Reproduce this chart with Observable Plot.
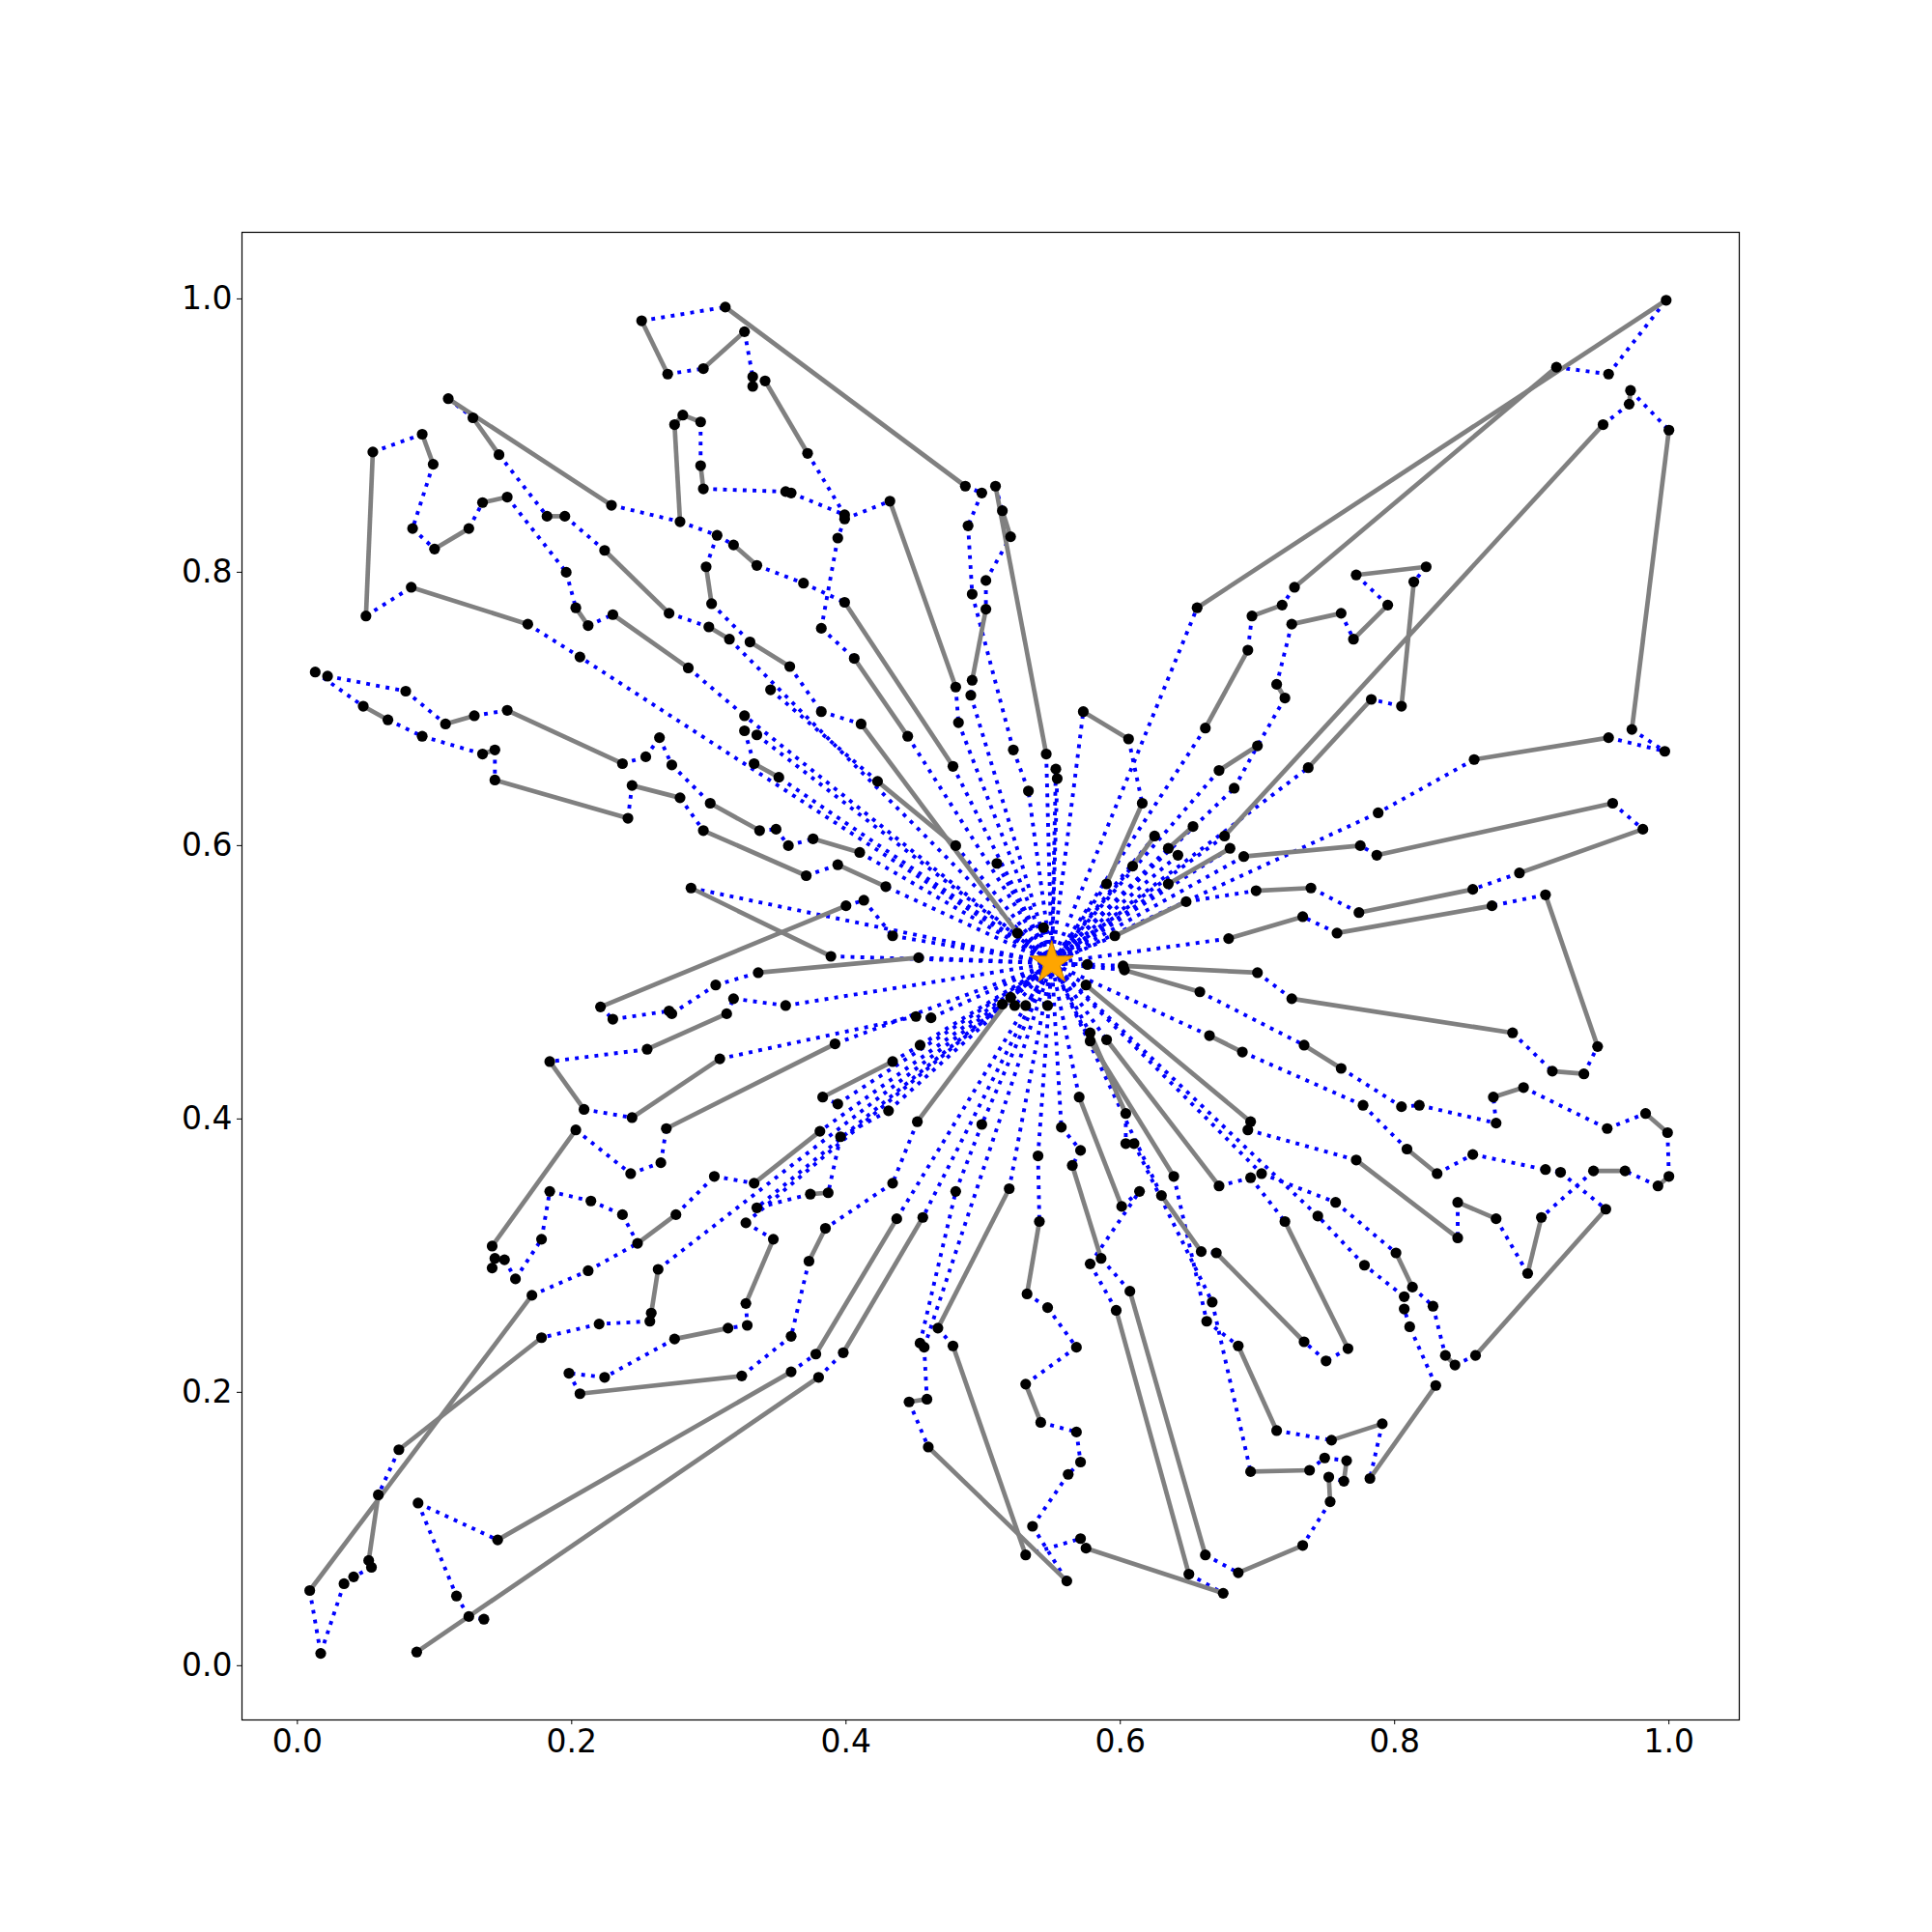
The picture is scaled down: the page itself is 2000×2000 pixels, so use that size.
<!DOCTYPE html>
<html>
<head>
<meta charset="utf-8">
<script src="https://cdn.jsdelivr.net/npm/d3@7"></script>
<script src="https://cdn.jsdelivr.net/npm/@observablehq/plot@0.6"></script>
<style>
  html, body { margin: 0; padding: 0; background: #ffffff; }
  #chart { width: 2000px; height: 2000px; }
</style>
</head>
<body>
<div id="chart"></div>
<script>
// Depot (star)
const depot = [0.550, 0.514];

// Tick values for both axes
const xTicks = [0.0, 0.2, 0.4, 0.6, 0.8, 1.0];
const yTicks = [0.0, 0.2, 0.4, 0.6, 0.8, 1.0];

// Solid gray route edges [x1, y1, x2, y2]
const solidEdges = [
  [0.251,0.984,0.270,0.945],[0.296,0.949,0.326,0.976],[0.312,0.994,0.487,0.863],[0.341,0.940,0.372,0.887],
  [0.110,0.927,0.229,0.849],[0.128,0.913,0.147,0.886],[0.182,0.841,0.195,0.841],[0.224,0.816,0.271,0.770],
  [0.300,0.760,0.315,0.751],[0.203,0.774,0.212,0.761],[0.230,0.769,0.285,0.730],[0.279,0.837,0.275,0.908],
  [0.275,0.908,0.281,0.915],[0.281,0.915,0.294,0.910],[0.294,0.878,0.296,0.861],[0.298,0.804,0.302,0.777],
  [0.318,0.820,0.335,0.805],[0.091,0.901,0.099,0.879],[0.100,0.817,0.125,0.832],[0.135,0.851,0.153,0.855],
  [0.055,0.888,0.050,0.768],[0.083,0.789,0.168,0.762],[0.048,0.702,0.066,0.692],[0.108,0.689,0.129,0.695],
  [0.153,0.699,0.237,0.660],[0.432,0.852,0.480,0.716],[0.399,0.778,0.478,0.658],[0.406,0.737,0.445,0.680],
  [0.330,0.749,0.359,0.731],[0.411,0.689,0.525,0.536],[0.423,0.647,0.480,0.600],[0.509,0.863,0.546,0.667],
  [0.514,0.845,0.520,0.826],[0.502,0.773,0.492,0.721],[0.573,0.698,0.606,0.678],[0.656,0.774,0.998,0.999],
  [0.662,0.686,0.693,0.743],[0.918,0.950,0.727,0.789],[0.972,0.933,0.971,0.923],[0.952,0.908,0.676,0.607],
  [1.000,0.904,0.973,0.685],[0.956,0.679,0.858,0.663],[0.718,0.776,0.696,0.768],[0.725,0.762,0.761,0.770],
  [0.770,0.751,0.795,0.776],[0.772,0.798,0.823,0.804],[0.814,0.793,0.805,0.702],[0.783,0.707,0.737,0.657],
  [0.714,0.718,0.720,0.708],[0.700,0.673,0.672,0.655],[0.959,0.631,0.787,0.593],[0.981,0.612,0.891,0.580],
  [0.857,0.568,0.774,0.551],[0.739,0.569,0.699,0.567],[0.775,0.600,0.690,0.592],[0.910,0.564,0.948,0.453],
  [0.871,0.556,0.758,0.536],[0.733,0.548,0.679,0.532],[0.700,0.507,0.602,0.512],[0.658,0.493,0.603,0.509],
  [0.725,0.488,0.886,0.463],[0.915,0.435,0.938,0.433],[0.734,0.454,0.761,0.437],[0.872,0.416,0.894,0.423],
  [0.983,0.404,0.999,0.390],[1.000,0.358,0.992,0.351],[0.968,0.362,0.945,0.362],[0.809,0.378,0.831,0.360],
  [0.846,0.339,0.874,0.327],[0.772,0.370,0.846,0.313],[0.954,0.334,0.859,0.227],[0.907,0.328,0.897,0.287],
  [0.665,0.461,0.689,0.449],[0.575,0.498,0.695,0.398],[0.616,0.631,0.590,0.572],[0.625,0.607,0.609,0.585],
  [0.653,0.614,0.635,0.598],[0.635,0.572,0.680,0.598],[0.596,0.534,0.648,0.559],[0.578,0.463,0.604,0.404],
  [0.578,0.457,0.639,0.358],[0.590,0.458,0.672,0.351],[0.570,0.416,0.601,0.336],[0.565,0.366,0.586,0.298],
  [0.541,0.325,0.532,0.272],[0.630,0.344,0.659,0.303],[0.670,0.302,0.734,0.237],[0.720,0.325,0.766,0.232],
  [0.686,0.234,0.714,0.172],[0.754,0.165,0.791,0.177],[0.782,0.137,0.830,0.205],[0.801,0.302,0.813,0.277],
  [0.837,0.227,0.844,0.220],[0.695,0.142,0.738,0.143],[0.765,0.150,0.763,0.135],[0.752,0.138,0.753,0.120],
  [0.733,0.088,0.686,0.068],[0.675,0.053,0.575,0.086],[0.662,0.081,0.607,0.274],[0.650,0.067,0.597,0.260],
  [0.531,0.206,0.542,0.178],[0.478,0.234,0.531,0.081],[0.460,0.160,0.561,0.062],[0.459,0.195,0.446,0.193],
  [0.467,0.247,0.519,0.349],[0.378,0.228,0.437,0.327],[0.146,0.092,0.360,0.215],[0.087,0.010,0.380,0.211],
  [0.398,0.229,0.456,0.328],[0.373,0.296,0.385,0.320],[0.347,0.312,0.327,0.265],[0.314,0.247,0.275,0.239],
  [0.206,0.199,0.324,0.212],[0.263,0.290,0.258,0.258],[0.248,0.309,0.276,0.330],[0.171,0.271,0.009,0.055],
  [0.178,0.240,0.074,0.158],[0.059,0.125,0.052,0.077],[0.142,0.307,0.203,0.392],[0.269,0.393,0.392,0.455],
  [0.313,0.477,0.255,0.451],[0.184,0.442,0.209,0.407],[0.244,0.401,0.308,0.444],[0.135,0.667,0.144,0.670],
  [0.144,0.648,0.241,0.620],[0.244,0.644,0.279,0.635],[0.296,0.611,0.371,0.578],[0.394,0.586,0.429,0.570],
  [0.301,0.631,0.337,0.611],[0.376,0.605,0.410,0.595],[0.333,0.660,0.351,0.650],[0.287,0.569,0.389,0.519],
  [0.336,0.507,0.453,0.518],[0.221,0.482,0.400,0.556],[0.383,0.416,0.434,0.442],[0.381,0.391,0.333,0.353],
  [0.387,0.346,0.374,0.345],[0.452,0.398,0.520,0.489]
];

// Dotted blue route edges between customers [x1, y1, x2, y2]
const dottedEdges = [
  [0.251,0.984,0.312,0.994],[0.270,0.945,0.296,0.949],[0.326,0.976,0.332,0.943],[0.332,0.943,0.332,0.936],
  [0.332,0.936,0.341,0.940],[0.372,0.887,0.399,0.842],[0.360,0.858,0.399,0.842],[0.356,0.859,0.360,0.858],
  [0.399,0.839,0.432,0.852],[0.399,0.839,0.394,0.825],[0.394,0.825,0.382,0.759],[0.382,0.759,0.406,0.737],
  [0.296,0.861,0.356,0.859],[0.487,0.863,0.499,0.858],[0.499,0.858,0.489,0.834],[0.489,0.834,0.492,0.784],
  [0.492,0.784,0.522,0.670],[0.522,0.670,0.533,0.640],[0.502,0.794,0.520,0.826],[0.502,0.794,0.502,0.773],
  [0.492,0.721,0.491,0.710],[0.480,0.716,0.482,0.690],[0.509,0.863,0.514,0.845],[0.606,0.678,0.616,0.631],
  [0.110,0.927,0.128,0.913],[0.147,0.886,0.182,0.841],[0.195,0.841,0.224,0.816],[0.271,0.770,0.300,0.760],
  [0.302,0.777,0.330,0.749],[0.153,0.855,0.196,0.800],[0.196,0.800,0.203,0.774],[0.212,0.761,0.230,0.769],
  [0.285,0.730,0.326,0.695],[0.229,0.849,0.279,0.837],[0.279,0.837,0.306,0.827],[0.306,0.827,0.298,0.804],
  [0.306,0.827,0.318,0.820],[0.294,0.910,0.294,0.878],[0.055,0.888,0.091,0.901],[0.099,0.879,0.084,0.832],
  [0.084,0.832,0.100,0.817],[0.125,0.832,0.135,0.851],[0.050,0.768,0.083,0.789],[0.168,0.762,0.206,0.738],
  [0.335,0.805,0.369,0.792],[0.369,0.792,0.399,0.778],[0.013,0.727,0.048,0.702],[0.013,0.727,0.022,0.724],
  [0.022,0.724,0.079,0.713],[0.066,0.692,0.091,0.680],[0.091,0.680,0.135,0.667],[0.079,0.713,0.108,0.689],
  [0.129,0.695,0.153,0.699],[0.237,0.660,0.254,0.665],[0.254,0.665,0.264,0.679],[0.264,0.679,0.273,0.659],
  [0.273,0.659,0.301,0.631],[0.326,0.684,0.333,0.660],[0.326,0.684,0.335,0.681],[0.359,0.731,0.382,0.698],
  [0.382,0.698,0.411,0.689],[0.345,0.714,0.423,0.647],[0.144,0.670,0.144,0.648],[0.241,0.620,0.244,0.644],
  [0.279,0.635,0.296,0.611],[0.371,0.578,0.394,0.586],[0.337,0.611,0.349,0.612],[0.349,0.612,0.358,0.600],
  [0.358,0.600,0.376,0.605],[0.918,0.950,0.956,0.945],[0.956,0.945,0.998,0.999],[0.972,0.933,1.000,0.904],
  [0.971,0.923,0.952,0.908],[0.973,0.685,0.997,0.669],[0.956,0.679,0.997,0.669],[0.727,0.789,0.718,0.776],
  [0.696,0.768,0.693,0.743],[0.725,0.762,0.714,0.718],[0.761,0.770,0.770,0.751],[0.795,0.776,0.772,0.798],
  [0.823,0.804,0.814,0.793],[0.805,0.702,0.783,0.707],[0.720,0.708,0.700,0.673],[0.683,0.642,0.700,0.673],
  [0.858,0.663,0.788,0.624],[0.959,0.631,0.981,0.612],[0.891,0.580,0.857,0.568],[0.774,0.551,0.739,0.569],
  [0.787,0.593,0.775,0.600],[0.648,0.559,0.699,0.567],[0.910,0.564,0.871,0.556],[0.758,0.536,0.733,0.548],
  [0.886,0.463,0.915,0.435],[0.938,0.433,0.948,0.453],[0.700,0.507,0.725,0.488],[0.658,0.493,0.734,0.454],
  [0.761,0.437,0.805,0.409],[0.805,0.409,0.818,0.410],[0.818,0.410,0.874,0.397],[0.874,0.397,0.872,0.416],
  [0.894,0.423,0.955,0.393],[0.955,0.393,0.983,0.404],[0.999,0.390,1.000,0.358],[0.992,0.351,0.968,0.362],
  [0.945,0.362,0.907,0.328],[0.897,0.287,0.874,0.327],[0.846,0.339,0.846,0.313],[0.772,0.370,0.693,0.392],
  [0.693,0.392,0.695,0.398],[0.689,0.449,0.777,0.410],[0.777,0.410,0.809,0.378],[0.831,0.360,0.857,0.374],
  [0.857,0.374,0.910,0.363],[0.910,0.363,0.921,0.361],[0.921,0.361,0.954,0.334],[0.672,0.351,0.695,0.357],
  [0.695,0.357,0.720,0.325],[0.703,0.360,0.757,0.339],[0.757,0.339,0.801,0.302],[0.813,0.277,0.828,0.263],
  [0.828,0.263,0.837,0.227],[0.844,0.220,0.859,0.227],[0.766,0.232,0.750,0.223],[0.750,0.223,0.734,0.237],
  [0.714,0.172,0.754,0.165],[0.791,0.177,0.782,0.137],[0.830,0.205,0.811,0.248],[0.811,0.248,0.807,0.261],
  [0.807,0.261,0.807,0.270],[0.807,0.270,0.778,0.293],[0.778,0.293,0.744,0.329],[0.663,0.252,0.686,0.234],
  [0.667,0.266,0.695,0.142],[0.738,0.143,0.749,0.152],[0.749,0.152,0.765,0.150],[0.752,0.138,0.763,0.135],
  [0.753,0.120,0.733,0.088],[0.662,0.081,0.686,0.068],[0.650,0.067,0.675,0.053],[0.607,0.274,0.586,0.298],
  [0.597,0.260,0.578,0.294],[0.578,0.294,0.614,0.347],[0.601,0.336,0.614,0.347],[0.604,0.404,0.604,0.382],
  [0.604,0.382,0.610,0.382],[0.610,0.382,0.667,0.266],[0.639,0.358,0.663,0.252],[0.557,0.394,0.571,0.377],
  [0.571,0.377,0.565,0.366],[0.540,0.373,0.541,0.325],[0.532,0.272,0.547,0.262],[0.547,0.262,0.568,0.233],
  [0.568,0.233,0.531,0.206],[0.542,0.178,0.568,0.171],[0.568,0.171,0.571,0.149],[0.571,0.149,0.562,0.140],
  [0.562,0.140,0.536,0.102],[0.536,0.102,0.561,0.062],[0.531,0.081,0.571,0.093],[0.571,0.093,0.575,0.086],
  [0.457,0.233,0.459,0.195],[0.446,0.193,0.460,0.160],[0.467,0.247,0.478,0.234],[0.454,0.236,0.480,0.347],
  [0.480,0.347,0.499,0.396],[0.452,0.398,0.434,0.353],[0.434,0.353,0.385,0.320],[0.373,0.296,0.360,0.241],
  [0.360,0.241,0.324,0.212],[0.360,0.215,0.378,0.228],[0.380,0.211,0.398,0.229],[0.327,0.324,0.347,0.312],
  [0.327,0.265,0.328,0.249],[0.328,0.249,0.314,0.247],[0.275,0.239,0.224,0.211],[0.224,0.211,0.198,0.214],
  [0.198,0.214,0.206,0.199],[0.171,0.271,0.212,0.289],[0.212,0.289,0.248,0.309],[0.237,0.330,0.248,0.309],
  [0.214,0.340,0.237,0.330],[0.184,0.347,0.214,0.340],[0.178,0.312,0.184,0.347],[0.159,0.283,0.178,0.312],
  [0.151,0.297,0.159,0.283],[0.142,0.307,0.144,0.298],[0.142,0.291,0.151,0.297],[0.258,0.258,0.257,0.252],
  [0.257,0.252,0.220,0.250],[0.220,0.250,0.178,0.240],[0.074,0.158,0.059,0.125],[0.052,0.077,0.054,0.072],
  [0.054,0.072,0.041,0.065],[0.041,0.065,0.034,0.060],[0.034,0.060,0.017,0.009],[0.009,0.055,0.017,0.009],
  [0.088,0.119,0.146,0.092],[0.088,0.119,0.116,0.051],[0.116,0.051,0.125,0.036],[0.125,0.036,0.136,0.034],
  [0.203,0.392,0.243,0.360],[0.243,0.360,0.265,0.368],[0.265,0.368,0.269,0.393],[0.276,0.330,0.304,0.358],
  [0.304,0.358,0.333,0.353],[0.374,0.345,0.335,0.335],[0.431,0.406,0.396,0.387],[0.396,0.387,0.387,0.346],
  [0.383,0.416,0.394,0.411],[0.434,0.442,0.454,0.454],[0.255,0.451,0.184,0.442],[0.209,0.407,0.244,0.401],
  [0.308,0.444,0.451,0.475],[0.451,0.475,0.462,0.474],[0.313,0.477,0.318,0.488],[0.318,0.488,0.356,0.483],
  [0.221,0.482,0.230,0.473],[0.230,0.473,0.271,0.479],[0.271,0.479,0.273,0.477],[0.273,0.477,0.305,0.498],
  [0.305,0.498,0.336,0.507],[0.400,0.556,0.413,0.560],[0.413,0.560,0.434,0.534],[0.659,0.303,0.670,0.302]
];

// Customers joined to the depot by a dotted blue edge [x, y]
const depotLinks = [
  [0.206,0.738],[0.315,0.751],[0.326,0.695],[0.335,0.681],[0.351,0.650],[0.410,0.595],[0.429,0.570],
  [0.434,0.534],[0.287,0.569],[0.389,0.519],[0.453,0.518],[0.480,0.600],[0.510,0.587],[0.525,0.536],
  [0.491,0.710],[0.482,0.690],[0.533,0.640],[0.546,0.667],[0.553,0.656],[0.554,0.649],[0.573,0.698],
  [0.590,0.572],[0.656,0.774],[0.662,0.686],[0.609,0.585],[0.625,0.607],[0.635,0.598],[0.642,0.593],
  [0.653,0.614],[0.672,0.655],[0.683,0.642],[0.676,0.607],[0.680,0.598],[0.690,0.592],[0.635,0.572],
  [0.596,0.534],[0.788,0.624],[0.679,0.532],[0.544,0.540],[0.576,0.513],[0.602,0.512],[0.603,0.509],
  [0.575,0.498],[0.665,0.461],[0.737,0.657],[0.445,0.680],[0.478,0.658],[0.356,0.483],[0.462,0.474],
  [0.454,0.454],[0.392,0.455],[0.394,0.411],[0.381,0.391],[0.431,0.406],[0.499,0.396],[0.437,0.327],
  [0.456,0.328],[0.457,0.233],[0.519,0.349],[0.540,0.373],[0.557,0.394],[0.570,0.416],[0.578,0.463],
  [0.578,0.457],[0.590,0.458],[0.630,0.344],[0.703,0.360],[0.327,0.324],[0.335,0.335],[0.263,0.290],
  [0.514,0.484],[0.520,0.489],[0.523,0.483],[0.531,0.483],[0.547,0.483],[0.744,0.329]
];

// Build link tables from the arrays above.
// Routes leave the depot on one dotted edge and come back on another,
// so alternate the drawing direction (the dot pattern starts at the first point).
const depotEdges = depotLinks.map(([x, y], i) =>
  i % 2 === 0 ? [depot[0], depot[1], x, y] : [x, y, depot[0], depot[1]]);
const allDotted = dottedEdges.concat(depotEdges);

const nodeMap = new Map();
for (const [x1, y1, x2, y2] of solidEdges.concat(dottedEdges)) {
  nodeMap.set(`${x1},${y1}`, [x1, y1]);
  nodeMap.set(`${x2},${y2}`, [x2, y2]);
}
for (const [x, y] of depotLinks) nodeMap.set(`${x},${y}`, [x, y]);
const nodes = Array.from(nodeMap.values());

const linkOpts = {x1: d => d[0], y1: d => d[1], x2: d => d[2], y2: d => d[3]};

const chart = Plot.plot({
  width: 2000,
  height: 2000,
  marginLeft: 250,
  marginRight: 200,
  marginTop: 240,
  marginBottom: 220,
  x: {domain: [-0.0404, 1.0513]},
  y: {domain: [-0.0397, 1.0487]},
  style: {fontFamily: "DejaVu Sans", fontSize: "33px", background: "#ffffff", color: "#000000"},
  marks: [
    Plot.link(allDotted, {...linkOpts, stroke: "#0000ff", strokeWidth: 3.9, strokeDasharray: "3.9,6.3", strokeLinecap: "butt"}),
    Plot.link(solidEdges, {...linkOpts, stroke: "#808080", strokeWidth: 4.7, strokeLinecap: "butt"}),
    Plot.dot(nodes, {x: d => d[0], y: d => d[1], r: 5.6, fill: "#000000"}),
    Plot.dot([depot], {x: d => d[0], y: d => d[1], symbol: "star", r: 14, fill: "#FFA500", stroke: "#c47f00", strokeWidth: 1}),
    Plot.axisX({ticks: xTicks, tickFormat: d3.format(".1f"), tickSize: 5, tickPadding: 5, label: null, fontSize: 33}),
    Plot.axisY({ticks: yTicks, tickFormat: d3.format(".1f"), tickSize: 5, tickPadding: 5, label: null, fontSize: 33}),
    Plot.frame({stroke: "#000000", strokeWidth: 1.2})
  ]
});

document.getElementById("chart").appendChild(chart);
</script>
</body>
</html>
